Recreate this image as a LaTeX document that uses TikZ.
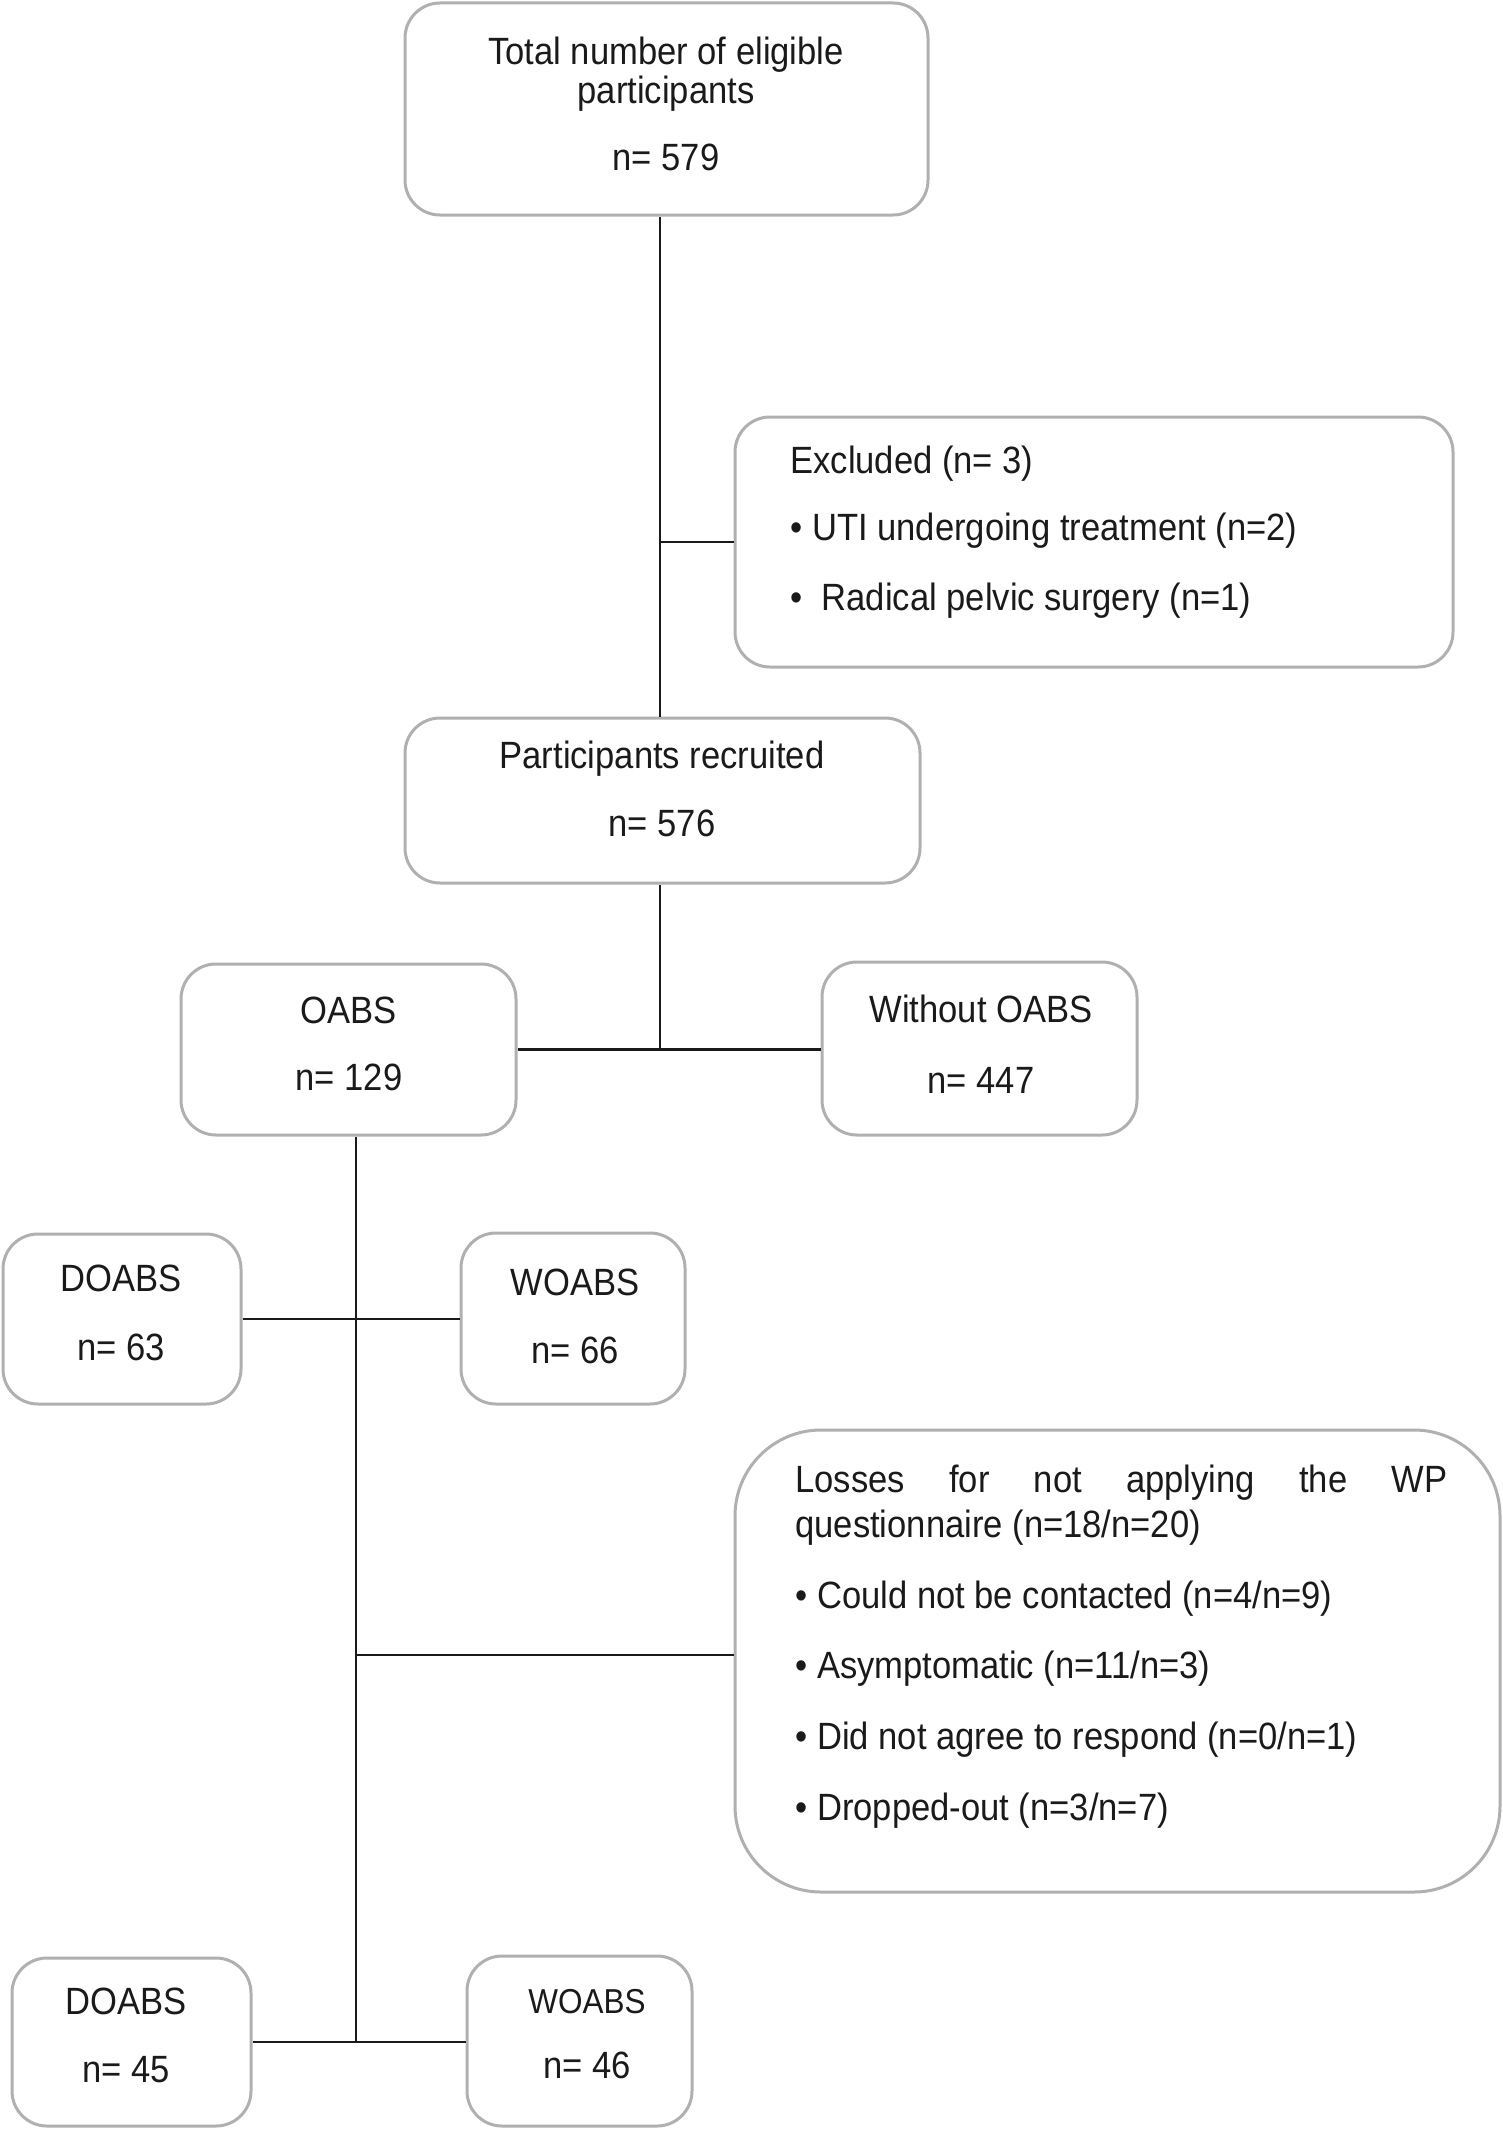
\documentclass[tikz,border=0pt]{standalone}
\usepackage{fontspec}
\setmainfont[FakeStretch=0.91]{Liberation Sans}
\usetikzlibrary{fit}
\definecolor{boxgray}{HTML}{B0B0B0}
\definecolor{ink}{HTML}{1A1A1A}
\begin{document}
\begin{tikzpicture}[x=0.5pt,y=-0.5pt,
  box/.style={draw=boxgray, line width=1.5pt, rounded corners=17.5pt, inner sep=0pt},
  bigbox/.style={box, rounded corners=43pt},
  conn/.style={draw=ink, line width=1.2pt},
  txt/.style={text=ink, inner sep=0pt, font=\fontsize{19}{22}\selectfont},
  ctxt/.style={txt, anchor=base},
  ltxt/.style={txt, anchor=base west}]
\useasboundingbox (0,0) rectangle (1503,2130);
% boxes
\node[box, fit={(405,3)(928,215)}] (b1) {};
\node[box, fit={(735,417)(1453,667)}] (ex) {};
\node[box, fit={(405,718)(920,883)}] (b3) {};
\node[box, fit={(181,964)(516,1135)}] (oabs) {};
\node[box, fit={(822,962)(1137,1135)}] (wo) {};
\node[box, fit={(3,1234)(241,1404)}] (d1) {};
\node[box, fit={(461,1233)(685,1404)}] (w1) {};
\node[bigbox, fit={(735,1430)(1500,1892)}] (loss) {};
\node[box, fit={(12,1958)(251,2126)}] (d2) {};
\node[box, fit={(467,1956)(692,2126)}] (w2) {};
% texts
\node[ctxt] (t1a) at (666,65) {Total number of eligible};
\node[ctxt] (t1b) at (666,104) {participants};
\node[ctxt] (t1c) at (666,170) {n= 579};
\node[ltxt] (exa) at (790,473) {Excluded (n= 3)};
\node[ltxt] (exb) at (790,540) {• UTI undergoing treatment (n=2)};
\node[ltxt] (exc) at (790,610) {•\ \ Radical pelvic surgery (n=1)};
\node[ctxt] (t3a) at (662,768) {Participants recruited};
\node[ctxt] (t3b) at (662,836) {n= 576};
\node[ctxt] (toa) at (349,1023) {OABS};
\node[ctxt] (tob) at (349,1090) {n= 129};
\node[ctxt] (twa) at (981,1022) {Without OABS};
\node[ctxt] (twb) at (981,1093) {n= 447};
\node[ctxt] (td1a) at (121,1291) {DOABS};
\node[ctxt] (td1b) at (121,1360) {n= 63};
\node[ctxt] (tw1a) at (575,1295) {WOABS};
\node[ctxt] (tw1b) at (575,1363) {n= 66};
\node[ltxt] (la) at (795,1492) {\makebox[326pt][s]{Losses\hfill for\hfill not\hfill applying\hfill the\hfill WP}};
\node[ltxt] (lb) at (795,1537) {questionnaire (n=18/n=20)};
\node[ltxt] (lc) at (795,1608) {• Could not be contacted (n=4/n=9)};
\node[ltxt] (ld) at (795,1678) {• Asymptomatic (n=11/n=3)};
\node[ltxt] (le) at (795,1749) {• Did not agree to respond (n=0/n=1)};
\node[ltxt] (lf) at (795,1820) {• Dropped-out (n=3/n=7)};
\node[ctxt] (td2a) at (126,2014) {DOABS};
\node[ctxt] (td2b) at (126,2082) {n= 45};
\node[ctxt, font=\fontsize{17.3}{20}\selectfont] (tw2a) at (587,2013) {WOABS};
\node[ctxt] (tw2b) at (587,2078) {n= 46};
% connector guides
\coordinate (v1) at (660,0);
\coordinate (v2) at (356,0);
\coordinate (hl) at (0,1655);
% connectors
\draw[conn] (b1.south -| v1) -- (b3.north -| v1);
\draw[conn] (v1 |- ex.west) -- (ex.west);
\draw[conn] (b3.south -| v1) -- (v1 |- oabs.east);
\draw[conn] (oabs.east) -- (oabs.east -| wo.west);
\draw[conn] (oabs.south -| v2) -- (v2 |- d2.east);
\draw[conn] (d1.east) -- (d1.east -| w1.west);
\draw[conn] (v2 |- hl) -- (loss.west |- hl);
\draw[conn] (d2.east) -- (d2.east -| w2.west);
\end{tikzpicture}
\end{document}
